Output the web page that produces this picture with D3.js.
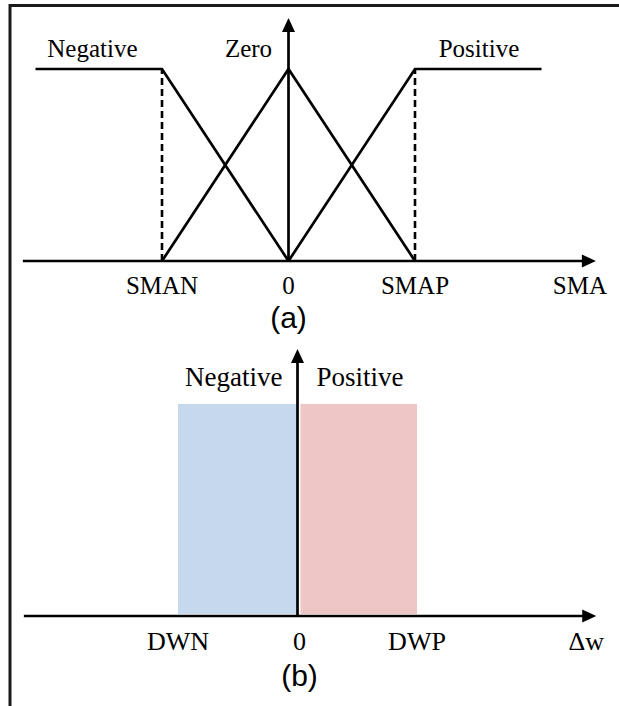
<!DOCTYPE html>
<html>
<head>
<meta charset="utf-8">
<script src="https://cdn.jsdelivr.net/npm/d3@7"></script>
<style>
  html, body { margin: 0; padding: 0; background: #fff; }
  svg { display: block; }
</style>
</head>
<body>
<svg id="chart" width="619" height="706"></svg>
<script>
// ---------- data ----------
// Panel (a): fuzzy membership functions of SMA
const smaTickValues = [-1, 0, 1];
const smaTickLabels = ["SMAN", "0", "SMAP"];
const smaAxisLabel = "SMA";
const memNegative = [[-2, 1], [-1, 1], [0, 0]];
const memZero = [[-1, 0], [0, 1], [1, 0]];
const memPositive = [[0, 0], [1, 1], [2, 1]];
const smaDashed = [-1, 1];
const setNamesA = ["Negative", "Zero", "Positive"];
const setLabelXA = [-1.55, -0.316, 1.506];
const smaAxisRange = [-2.1, 2.43];
const smaVertTop = 1.266;

// Panel (b): crisp sets of Δw
const dwTickValues = [-1, 0, 1];
const dwTickLabels = ["DWN", "0", "DWP"];
const dwAxisLabel = "Δw";
const dwSets = [
  { name: "Negative", x0: -1, x1: 0, height: 1 },
  { name: "Positive", x0: 0, x1: 1, height: 1 }
];
const dwAxisRange = [-2.29, 2.5];
const dwVertTop = 1.26;

const panelCaptions = ["(a)", "(b)"];

// ---------- drawing ----------
const svg = d3.select("#chart");
const ink = "#000";
const lw = 2.7;
const serif = "'Liberation Serif', 'Times New Roman', serif";
const sans = "'Liberation Sans', Arial, sans-serif";

// frame (top and left borders)
svg.append("line").attr("x1", 9).attr("x2", 619).attr("y1", 5.5).attr("y2", 5.5)
  .attr("stroke", "#1a1a1a").attr("stroke-width", 3);
svg.append("line").attr("x1", 10).attr("x2", 10).attr("y1", 4).attr("y2", 706)
  .attr("stroke", "#1a1a1a").attr("stroke-width", 3);

function arrowH(g, x1, xTip, y) {
  const L = 14, W = 6.5;
  g.append("line").attr("x1", x1).attr("x2", xTip - L + 1).attr("y1", y).attr("y2", y)
    .attr("stroke", ink).attr("stroke-width", lw);
  g.append("path").attr("d", `M${xTip},${y} L${xTip - L},${y - W} L${xTip - L},${y + W} Z`).attr("fill", ink);
}
function arrowV(g, x, y1, yTip) {
  const L = 14, W = 6.5;
  g.append("line").attr("x1", x).attr("x2", x).attr("y1", y1).attr("y2", yTip + L - 1)
    .attr("stroke", ink).attr("stroke-width", lw);
  g.append("path").attr("d", `M${x},${yTip} L${x - W},${yTip + L} L${x + W},${yTip + L} Z`).attr("fill", ink);
}

// ----- Panel (a) -----
const xa = d3.scaleLinear().domain([-1, 1]).range([162, 415]);
const ya = d3.scaleLinear().domain([0, 1]).range([261, 69]);
const ga = svg.append("g");

const line = d3.line().x(d => xa(d[0])).y(d => ya(d[1]));

// dashed verticals
ga.selectAll("line.dash").data(smaDashed).join("line").attr("class", "dash")
  .attr("x1", d => xa(d)).attr("x2", d => xa(d))
  .attr("y1", ya(0)).attr("y2", ya(1))
  .attr("stroke", ink).attr("stroke-width", 2.6).attr("stroke-dasharray", "7,4");

ga.selectAll("path.mf").data([memNegative, memZero, memPositive]).join("path").attr("class", "mf")
  .attr("d", line).attr("fill", "none").attr("stroke", ink).attr("stroke-width", lw)
  .attr("stroke-linejoin", "miter");

arrowH(ga, xa(smaAxisRange[0]), xa(smaAxisRange[1]), ya(0));
arrowV(ga, xa(0), ya(0), ya(smaVertTop));

ga.selectAll("text.set").data(setNamesA).join("text").attr("class", "set")
  .attr("x", (d, i) => xa(setLabelXA[i])).attr("y", 57)
  .attr("text-anchor", "middle").attr("font-family", serif).attr("font-size", 25)
  .text(d => d);

ga.selectAll("text.tick").data(smaTickValues).join("text").attr("class", "tick")
  .attr("x", d => xa(d)).attr("y", 294)
  .attr("text-anchor", "middle").attr("font-family", serif).attr("font-size", 25)
  .text((d, i) => smaTickLabels[i]);

ga.append("text").attr("x", 607).attr("y", 294).attr("text-anchor", "end")
  .attr("font-family", serif).attr("font-size", 25).text(smaAxisLabel);

ga.append("text").attr("x", xa(0)).attr("y", 328).attr("text-anchor", "middle")
  .attr("font-family", sans).attr("font-size", 30).text(panelCaptions[0]);

// ----- Panel (b) -----
const xb = d3.scaleLinear().domain([-1, 1]).range([178, 417]);
const yb = d3.scaleLinear().domain([0, 1]).range([616, 404]);
const gb = svg.append("g");
const fills = ["#c5d8ec", "#efc6c6"];

gb.selectAll("rect.set").data(dwSets).join("rect").attr("class", "set")
  .attr("x", d => xb(d.x0) + (d.x0 >= 0 ? 3 : 0))
  .attr("width", d => xb(d.x1) - xb(d.x0) - (d.x0 >= 0 ? 3 : 0))
  .attr("y", d => yb(d.height)).attr("height", d => yb(0) - yb(d.height) - 2)
  .attr("fill", (d, i) => fills[i]);

arrowH(gb, xb(dwAxisRange[0]), xb(dwAxisRange[1]), yb(0));
arrowV(gb, xb(0), yb(0), yb(dwVertTop));

gb.selectAll("text.set").data(dwSets).join("text").attr("class", "set")
  .attr("x", (d, i) => i === 0 ? xb(0) - 15 : xb(0) + 19)
  .attr("y", 386)
  .attr("text-anchor", (d, i) => i === 0 ? "end" : "start")
  .attr("font-family", serif).attr("font-size", 27).text(d => d.name);

gb.selectAll("text.tick").data(dwTickValues).join("text").attr("class", "tick")
  .attr("x", d => xb(d) + (d === 0 ? 2 : 0)).attr("y", 650)
  .attr("text-anchor", "middle").attr("font-family", serif).attr("font-size", 26)
  .text((d, i) => dwTickLabels[i]);

gb.append("text").attr("x", 604).attr("y", 650).attr("text-anchor", "end")
  .attr("font-family", serif).attr("font-size", 26).text(dwAxisLabel);

gb.append("text").attr("x", xb(0) + 2).attr("y", 686).attr("text-anchor", "middle")
  .attr("font-family", sans).attr("font-size", 30).text(panelCaptions[1]);
</script>
</body>
</html>
